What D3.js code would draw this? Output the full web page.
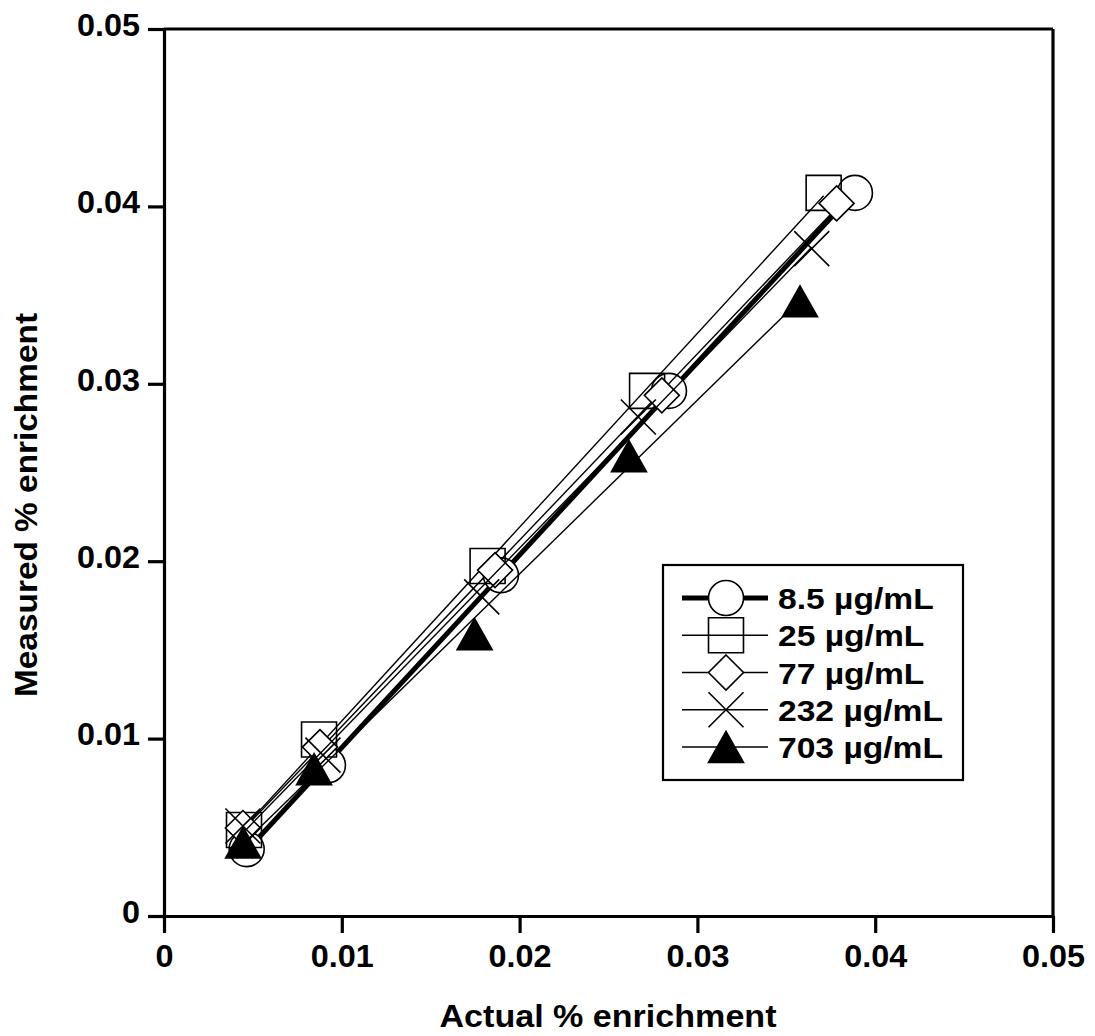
<!DOCTYPE html>
<html>
<head>
<meta charset="utf-8">
<script src="https://cdn.jsdelivr.net/npm/d3@7"></script>
<style>
  html, body { margin: 0; padding: 0; background: #fff; }
  svg { display: block; }
  text { font-family: "Liberation Sans", Arial, Helvetica, sans-serif; font-weight: bold; fill: #000; }
</style>
</head>
<body>
<svg id="chart" width="1095" height="1036"></svg>
<script>
// ---------- data ----------
const seriesNames = ["8.5 µg/mL", "25 µg/mL", "77 µg/mL", "232 µg/mL", "703 µg/mL"];
const seriesShapes = ["circle", "square", "diamond", "cross", "triangle"];

const actual_8_5   = [0.00465, 0.00922, 0.01895, 0.02840, 0.03886];
const measured_8_5 = [0.00377, 0.00850, 0.01921, 0.02960, 0.04076];

const actual_25    = [0.00450, 0.00872, 0.01820, 0.02717, 0.03710];
const measured_25  = [0.00485, 0.00995, 0.01973, 0.02960, 0.04076];

const actual_77    = [0.00444, 0.00877, 0.01862, 0.02800, 0.03783];
const measured_77  = [0.00496, 0.00952, 0.01950, 0.02935, 0.04017];

const actual_232   = [0.00444, 0.00894, 0.01787, 0.02668, 0.03643];
const measured_232 = [0.00507, 0.00907, 0.01799, 0.02813, 0.03762];

const actual_703   = [0.00445, 0.00844, 0.01747, 0.02615, 0.03577];
const measured_703 = [0.00414, 0.00828, 0.01589, 0.02592, 0.03465];

const xTickValues = [0, 0.01, 0.02, 0.03, 0.04, 0.05];
const xTickLabels = ["0", "0.01", "0.02", "0.03", "0.04", "0.05"];
const yTickValues = [0, 0.01, 0.02, 0.03, 0.04, 0.05];
const yTickLabels = ["0", "0.01", "0.02", "0.03", "0.04", "0.05"];

const xTitle = "Actual % enrichment";
const yTitle = "Measured % enrichment";

// ---------- layout ----------
const svg = d3.select("#chart");
const pL = 164, pR = 1053, pT = 29, pB = 916;
const x = d3.scaleLinear().domain([0, 0.05]).range([pL, pR]);
const y = d3.scaleLinear().domain([0, 0.05]).range([pB, pT]);

const actualArr = [actual_8_5, actual_25, actual_77, actual_232, actual_703];
const measuredArr = [measured_8_5, measured_25, measured_77, measured_232, measured_703];
const series = seriesNames.map((name, i) => ({
  name, shape: seriesShapes[i],
  pts: actualArr[i].map((a, j) => ({ a, m: measuredArr[i][j] }))
}));

function fit(pts) {
  const mx = d3.mean(pts, p => p.a), my = d3.mean(pts, p => p.m);
  const sxy = d3.sum(pts, p => (p.a - mx) * (p.m - my));
  const sxx = d3.sum(pts, p => (p.a - mx) * (p.a - mx));
  const b = sxy / sxx;
  return { b, c: my - b * mx };
}

const MS = 35; // marker size
function markerPath(shape) {
  const h = MS / 2;
  switch (shape) {
    case "square": return `M${-h},${-h}H${h}V${h}H${-h}Z`;
    case "diamond": return `M0,${-h}L${h},0L0,${h}L${-h},0Z`;
    case "cross": return `M${-h},${-h}L${h},${h}M${h},${-h}L${-h},${h}`;
    case "triangle": return `M0,${-15.5}L${h},${15.5}L${-h},${15.5}Z`;
  }
  return "";
}
function drawMarker(g, shape, cx, cy) {
  if (shape === "circle") {
    g.append("circle").attr("cx", cx).attr("cy", cy).attr("r", MS / 2)
      .attr("fill", "#fff").attr("stroke", "#000").attr("stroke-width", 1.6);
  } else {
    g.append("path").attr("d", markerPath(shape))
      .attr("transform", `translate(${cx},${cy})`)
      .attr("fill", shape === "triangle" ? "#000" : (shape === "diamond" ? "#fff" : "none"))
      .attr("stroke", "#000").attr("stroke-width", 1.6);
  }
}

// ---------- series ----------
const plot = svg.append("g");
series.forEach((s, i) => {
  const f = fit(s.pts);
  const x0 = d3.min(s.pts, p => p.a), x1 = d3.max(s.pts, p => p.a);
  plot.append("line")
    .attr("x1", x(x0)).attr("y1", y(f.b * x0 + f.c))
    .attr("x2", x(x1)).attr("y2", y(f.b * x1 + f.c))
    .attr("stroke", "#000").attr("stroke-width", i === 0 ? 5 : 1.4);
  s.pts.forEach(p => drawMarker(plot, s.shape, x(p.a), y(p.m)));
});

// ---------- axes ----------
const axisW = 3.2;
const xAxis = d3.axisBottom(x).tickValues(xTickValues)
  .tickFormat((d, i) => xTickLabels[i]).tickSizeInner(17).tickSizeOuter(0).tickPadding(12);
const yAxis = d3.axisLeft(y).tickValues(yTickValues)
  .tickFormat((d, i) => yTickLabels[i]).tickSizeInner(16).tickSizeOuter(0).tickPadding(8);

const gx = svg.append("g").attr("transform", `translate(0,${pB})`).call(xAxis);
const gy = svg.append("g").attr("transform", `translate(${pL},0)`).call(yAxis);
[gx, gy].forEach(g => {
  g.select(".domain").attr("stroke", "#000").attr("stroke-width", axisW);
  g.selectAll(".tick line").attr("stroke", "#000").attr("stroke-width", axisW);
  g.selectAll(".tick text").style("font-size", "31px").style("font-family", "'Liberation Sans', Arial, sans-serif")
    .style("font-weight", "bold").attr("fill", "#000");
});
gx.selectAll(".tick text").attr("dy", "0.71em");
gy.selectAll(".tick text").attr("dy", "0.2em");
// top & right frame
svg.append("line").attr("x1", pL).attr("x2", pR).attr("y1", pT).attr("y2", pT)
  .attr("stroke", "#000").attr("stroke-width", axisW);
svg.append("line").attr("x1", pR).attr("x2", pR).attr("y1", pT).attr("y2", pB)
  .attr("stroke", "#000").attr("stroke-width", axisW);
svg.selectAll(".tick text").each(function () {
  const w = this.getComputedTextLength();
  d3.select(this).attr("textLength", w * 1.045).attr("lengthAdjust", "spacingAndGlyphs");
});

// ---------- titles ----------
const xt = svg.append("text").attr("x", 608).attr("y", 1027)
  .attr("text-anchor", "middle").style("font-size", "31px").text(xTitle);
xt.attr("textLength", 337).attr("lengthAdjust", "spacingAndGlyphs");
const yt = svg.append("text").attr("transform", `translate(37,505) rotate(-90)`)
  .attr("text-anchor", "middle").style("font-size", "31px").text(yTitle);
yt.attr("textLength", 384).attr("lengthAdjust", "spacingAndGlyphs");

// ---------- legend ----------
const lg = svg.append("g");
lg.append("rect").attr("x", 663).attr("y", 565).attr("width", 300).attr("height", 215)
  .attr("fill", "#fff").attr("stroke", "#000").attr("stroke-width", 2.2);
const rowY = d3.scalePoint().domain(seriesNames).range([598, 747]);
series.forEach((s, i) => {
  const cy = rowY(s.name);
  lg.append("line").attr("x1", 682).attr("x2", 768).attr("y1", cy).attr("y2", cy)
    .attr("stroke", "#000").attr("stroke-width", i === 0 ? 5 : 1.4);
  drawMarker(lg, s.shape, 726, cy);
  const t = lg.append("text").attr("x", 778).attr("y", cy + 11).style("font-size", "30px").text(s.name);
  const w = t.node().getComputedTextLength();
  t.attr("textLength", w * 1.12).attr("lengthAdjust", "spacingAndGlyphs");
});
</script>
</body>
</html>
